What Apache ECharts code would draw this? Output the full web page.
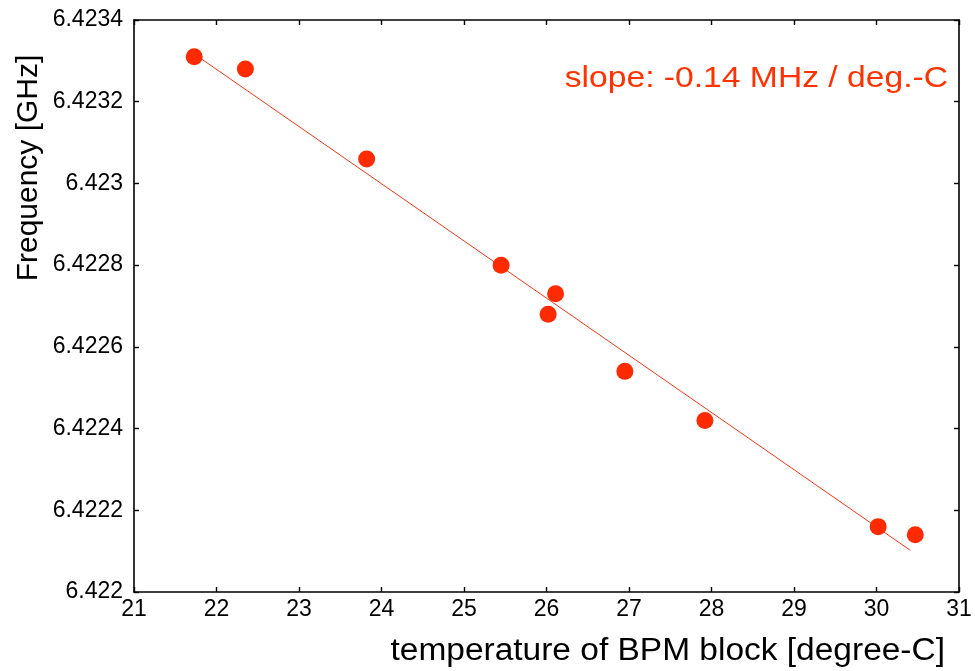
<!DOCTYPE html>
<html><head><meta charset="utf-8">
<script src="https://cdn.jsdelivr.net/npm/echarts@6/dist/echarts.min.js"></script>
<style>html,body{margin:0;padding:0;background:#fff}#c{width:975px;height:671px}</style>
</head><body><div id="c"></div>
<script>
const temperature = [21.73, 22.35, 23.82, 25.45, 26.11, 26.02, 26.95, 27.92, 30.02, 30.47];
const frequency = [6.42331, 6.42328, 6.42306, 6.42280, 6.42273, 6.42268, 6.42254, 6.42242, 6.42216, 6.42214];
const fitX = [21.73, 30.41];
const fitY = [6.423317, 6.422102];
const xTicks = [21, 22, 23, 24, 25, 26, 27, 28, 29, 30, 31];
const yTicks = ['6.422', '6.4222', '6.4224', '6.4226', '6.4228', '6.423', '6.4232', '6.4234'];
const annotation = 'slope: -0.14 MHz / deg.-C';
const xName = 'temperature of BPM block [degree-C]';
const yName = 'Frequency [GHz]';

const font = 'Liberation Sans, Arial, Helvetica, sans-serif';
const chart = echarts.init(document.getElementById('c'));
const axisCommon = {
  axisLine: {show: true, onZero: false, lineStyle: {color: '#000', width: 1.6}},
  axisTick: {show: true, inside: true, length: 5, lineStyle: {color: '#000', width: 1.4}},
  splitLine: {show: false}
};
const xmin = xTicks[0], xmax = xTicks[xTicks.length - 1];
const ymin = parseFloat(yTicks[0]), ymax = parseFloat(yTicks[yTicks.length - 1]);
chart.setOption({
  animation: false,
  grid: {left: 134, right: 16, top: 20, bottom: 79},
  xAxis: [
    Object.assign({type: 'value', min: xmin, max: xmax, interval: 1, position: 'bottom',
      axisLabel: {color: '#000', fontSize: 23, fontFamily: font, margin: 6}}, axisCommon),
    Object.assign({type: 'value', min: xmin, max: xmax, interval: 1, position: 'top',
      axisLabel: {show: false}}, axisCommon)
  ],
  yAxis: [
    Object.assign({type: 'value', min: ymin, max: ymax, interval: 0.0002, position: 'left',
      axisLabel: {color: '#000', fontSize: 23, fontFamily: font, margin: 11,
        formatter: v => String(parseFloat(v.toFixed(4)))}}, axisCommon),
    Object.assign({type: 'value', min: ymin, max: ymax, interval: 0.0002, position: 'right',
      axisLabel: {show: false}}, axisCommon)
  ],
  series: [
    {type: 'line', data: fitX.map((x, i) => [x, fitY[i]]), showSymbol: false, symbol: 'none',
      lineStyle: {color: '#ff3311', width: 1}, z: 2},
    {type: 'scatter', data: temperature.map((x, i) => [x, frequency[i]]), symbolSize: 17,
      itemStyle: {color: '#ff2a00', opacity: 1}, z: 3}
  ],
  graphic: [
    {type: 'text', x: 948, y: 79, scaleX: 1.16, originX: 0, originY: 0,
      style: {text: annotation, fill: '#ff3300', font: '29px ' + font, align: 'right', verticalAlign: 'middle'}},
    {type: 'text', x: 945, y: 651, scaleX: 1.08, originX: 0, originY: 0,
      style: {text: xName, fill: '#000', font: '31px ' + font, align: 'right', verticalAlign: 'middle'}},
    {type: 'text', x: 29, y: 168, rotation: Math.PI / 2, originX: 0, originY: 0,
      style: {text: yName, fill: '#000', font: '30px ' + font, align: 'center', verticalAlign: 'middle'}}
  ]
});
</script></body></html>
